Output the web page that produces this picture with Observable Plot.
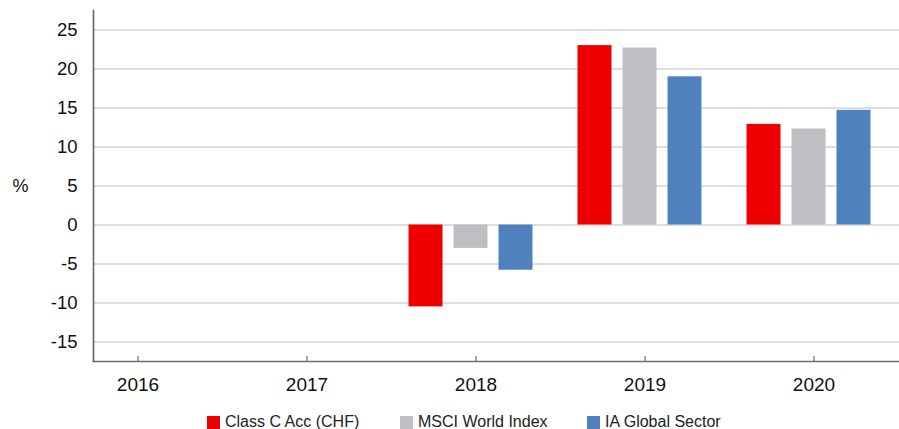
<!DOCTYPE html>
<html>
<head>
<meta charset="utf-8">
<script src="https://cdn.jsdelivr.net/npm/d3@7"></script>
<script src="https://cdn.jsdelivr.net/npm/@observablehq/plot@0.6"></script>
<style>
  body { margin: 0; background: #fff; font-family: "Liberation Sans", Arial, sans-serif; }
  #wrap { position: relative; width: 899px; height: 429px; }
  #legend { position: absolute; left: 0; top: 407px; width: 899px; height: 29px; }
  .item { position: absolute; top: 0; height: 29px; display: flex; align-items: center; font-size: 16px; color: #222; white-space: nowrap; }
  .sw { width: 13px; height: 13px; margin-right: 5px; margin-top: 2px; }
</style>
</head>
<body>
<div id="wrap"><div id="chart"></div><div id="legend"></div></div>
<script>
const years = ["2016", "2017", "2018", "2019", "2020"];
const seriesNames = ["Class C Acc (CHF)", "MSCI World Index", "IA Global Sector"];
const seriesColors = ["#ee0000", "#bebfc3", "#4f81bd"];
const classC = [null, null, -10.5, 23.0, 12.9];
const msci = [null, null, -3.0, 22.7, 12.3];
const iaGlobal = [null, null, -5.8, 19.0, 14.7];
const yTicks = [-15, -10, -5, 0, 5, 10, 15, 20, 25];
const legendLeft = [207, 400, 587];

const allSeries = [classC, msci, iaGlobal];
const rows = allSeries.map((vals, s) =>
  years.map((y, i) => ({year: y, value: vals[i], series: seriesNames[s]})).filter(d => d.value != null)
);

const offsets = [-50, -5, 40];
const barMarks = rows.map((data, s) =>
  Plot.barY(data, {x: "year", y: "value", fill: seriesColors[s], dx: offsets[s], insetLeft: 67.5, insetRight: 67.5})
);

const chart = Plot.plot({
  width: 899,
  height: 400,
  marginLeft: 93,
  marginRight: 0,
  marginTop: 10,
  marginBottom: 39,
  style: {fontFamily: "Liberation Sans, Arial, sans-serif", background: "#fff"},
  x: {type: "band", domain: years, range: [53, 898], padding: 0},
  y: {domain: [-17.5, 27.5]},
  marks: [
    Plot.ruleY(yTicks, {stroke: "#d3d3d3", strokeWidth: 1.3}),
    ...barMarks,
    Plot.axisY({ticks: yTicks, tickFormat: d => String(d), tickSize: 0, tickPadding: 16, fontSize: 18.5, label: null, fill: "#111"}),
    Plot.axisX({tickSize: -5, tickPadding: 21, fontSize: 19, label: null, stroke: "#555", fill: "#111"}),
    Plot.text(["%"], {frameAnchor: "left", dx: -81, textAnchor: "start", fontSize: 18, fill: "#111"}),
    Plot.frame({anchor: "left", stroke: "#6b6b6b", strokeWidth: 1.7}),
    Plot.frame({anchor: "bottom", stroke: "#6b6b6b", strokeWidth: 1.7})
  ]
});
document.getElementById("chart").appendChild(chart);

const legend = document.getElementById("legend");
seriesNames.forEach((name, i) => {
  const item = document.createElement("div");
  item.className = "item";
  item.style.left = legendLeft[i] + "px";
  const sw = document.createElement("div");
  sw.className = "sw";
  sw.style.background = seriesColors[i];
  const t = document.createElement("span");
  t.textContent = name;
  item.appendChild(sw);
  item.appendChild(t);
  legend.appendChild(item);
});
</script>
</body>
</html>
